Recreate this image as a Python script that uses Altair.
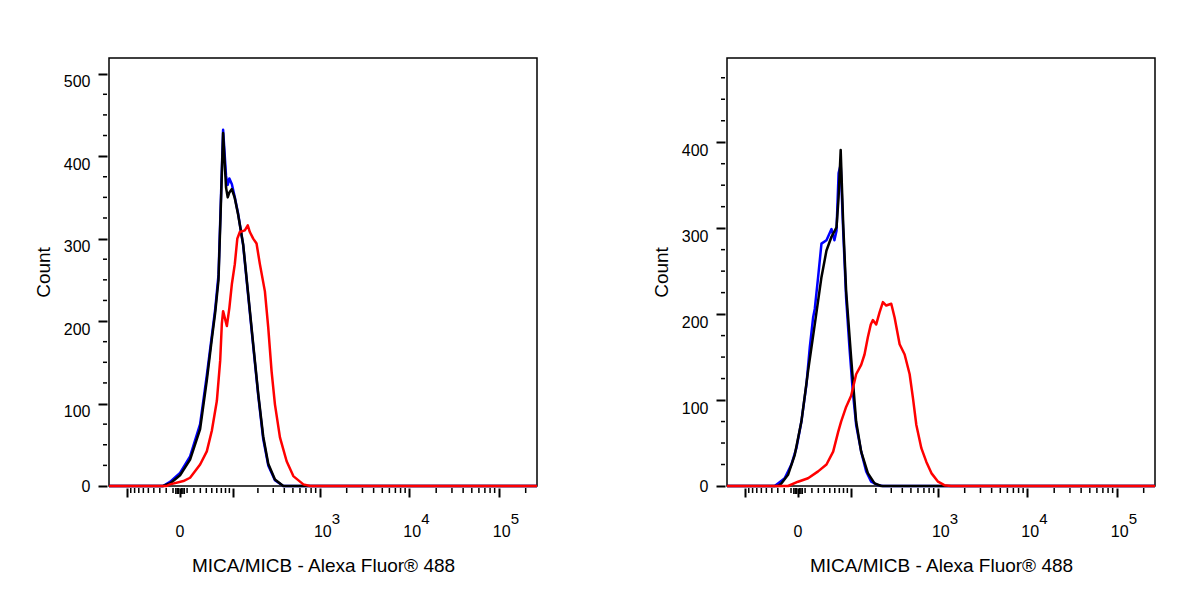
import altair as alt
import numpy as np
import pandas as pd

FONT = "Liberation Sans"
W, H = 428, 428

# histogram channels (0-1024 across the x axis) and counts
LEFT_BB_CH = [129, 146, 170, 194, 218, 234, 246, 254, 262, 267, 273, 280, 284,
              288, 294, 301, 309, 321, 333, 345, 357, 369, 381, 397, 417]
LEFT_BLUE = [0, 5, 16, 36, 75, 134, 182, 214, 256, 336, 432, 376, 365,
             373, 366, 350, 330, 292, 231, 170, 110, 57, 25, 7, 0]
LEFT_BLACK = [0, 3, 13, 32, 69, 128, 178, 210, 250, 330, 428, 362, 350,
              356, 360, 349, 329, 293, 233, 172, 112, 60, 27, 8, 0]

LEFT_RED_CH = [138, 146, 178, 194, 218, 234, 246, 258, 266, 270, 273, 282, 288,
               294, 301, 307, 313, 325, 332, 337, 345, 353, 361, 373, 381, 389,
               397, 409, 425, 441, 465, 481]
LEFT_RED = [0, 2, 6, 10, 26, 42, 67, 103, 152, 197, 212, 194, 216,
            245, 269, 300, 308, 310, 316, 308, 300, 294, 269, 236, 192, 139,
            99, 59, 30, 12, 2, 0]

RIGHT_BLUE_CH = [114, 122, 138, 154, 166, 178, 190, 198, 206, 210, 218, 226, 238,
                 250, 257, 262, 267, 272, 278, 285, 293, 301, 309, 321, 333, 345,
                 361, 373]
RIGHT_BLUE = [0, 3, 9, 25, 44, 75, 118, 161, 196, 206, 243, 282, 286,
              299, 286, 297, 364, 374, 297, 219, 161, 110, 71, 40, 17, 5,
              1, 0]

RIGHT_BLACK_CH = [122, 130, 146, 162, 178, 194, 210, 226, 238, 250, 262, 267,
                  272, 278, 285, 297, 309, 321, 337, 353, 369]
RIGHT_BLACK = [0, 3, 13, 36, 75, 134, 188, 243, 274, 290, 301, 336,
               391, 305, 227, 149, 75, 40, 15, 3, 0]

RIGHT_RED_CH = [146, 170, 194, 218, 238, 254, 266, 273, 285, 297, 309, 321, 329,
                337, 344, 349, 357, 365, 373, 381, 393, 401, 413, 425, 437, 445,
                453, 465, 477, 489, 505, 520, 536]
RIGHT_RED = [0, 5, 9, 17, 25, 40, 63, 75, 92, 105, 130, 141, 153,
             173, 188, 193, 188, 202, 214, 210, 212, 196, 165, 153, 130, 102,
             71, 44, 28, 15, 5, 1, 0]

# x axis ticks, in fluorescence units
MAJOR_X = [-100, 0, 100, 1000, 10000, 100000]
MINOR_X = ([-90, -80, -70, -60, -50, -40, -30, -20, -10]
           + [10, 20, 30, 40, 50, 60, 70, 80, 90]
           + [200, 300, 400, 500, 600, 700, 800, 900]
           + [2000, 3000, 4000, 5000, 6000, 7000, 8000, 9000]
           + [20000, 30000, 40000, 50000, 60000, 70000, 80000, 90000]
           + [200000])
ZERO_X = [-6, -4, -2, 2, 4, 6]
LABEL_X = [0, 1000, 10000, 100000]
LABEL_BASE = ["0", "10", "10", "10"]
LABEL_EXP = ["", "3", "4", "5"]

X_TITLE = "MICA/MICB - Alexa Fluor® 488"


def to_channel(v):
    # biexponential display: near-linear round zero, log above a few hundred
    return 170 + 93.0 * np.arcsinh(np.asarray(v, dtype=float) / 55.0)


def curve(ch, counts):
    # pad each histogram out to both ends of the axis at zero
    return pd.DataFrame({"ch": [0] + ch + [1024], "count": [0] + counts + [0]})


def panel(curves, ymax, ymajor):
    x_axis = alt.Axis(
        values=[round(float(c), 3) for c in to_channel(MAJOR_X)],
        labels=False, tickSize=9, tickWidth=2, tickColor="black",
        domain=False, grid=False, offset=2,
        title=X_TITLE, titleFont=FONT, titleFontSize=19,
        titleFontWeight="normal", titleColor="black", titlePadding=58,
    )
    y_axis = alt.Axis(
        values=ymajor, tickSize=9, tickWidth=2, tickColor="black",
        domain=False, grid=False, offset=2,
        labelFont=FONT, labelFontSize=16, labelColor="black", labelPadding=8,
        labelBaseline={"condition": {"test": "datum.value === 0", "value": "middle"},
                       "value": "top"},
        labelOverlap=False,
        title="Count", titleFont=FONT, titleFontSize=19,
        titleFontWeight="normal", titleColor="black", titlePadding=10,
    )
    x = alt.X("ch:Q", scale=alt.Scale(domain=[0, 1024], nice=False, zero=False), axis=x_axis)
    y = alt.Y("count:Q", scale=alt.Scale(domain=[0, ymax], nice=False), axis=y_axis)

    layers = []
    for df, color in curves:
        layers.append(
            alt.Chart(df).mark_line(color=color, strokeWidth=2.5, strokeJoin="round")
            .encode(x=x, y=y)
        )

    minor = pd.DataFrame({"ch": to_channel(MINOR_X)})
    layers.append(
        alt.Chart(minor).mark_rule(color="black", strokeWidth=1.5)
        .encode(x=x, y=alt.value(H + 2), y2=alt.value(H + 7))
    )
    zero = pd.DataFrame({"ch": to_channel(ZERO_X)})
    layers.append(
        alt.Chart(zero).mark_rule(color="black", strokeWidth=1.5)
        .encode(x=x, y=alt.value(H + 2), y2=alt.value(H + 8))
    )

    ymin = [v for v in range(25, int(ymax), 25) if v % 100 != 0]
    layers.append(
        alt.Chart(pd.DataFrame({"count": ymin})).mark_rule(color="black", strokeWidth=1.5)
        .encode(y=y, x=alt.value(-2), x2=alt.value(-6))
    )

    labels = pd.DataFrame({"ch": to_channel(LABEL_X), "base": LABEL_BASE, "exp": LABEL_EXP})
    layers.append(
        alt.Chart(labels[labels["exp"] == ""])
        .mark_text(font=FONT, fontSize=16, color="black", align="center", baseline="middle")
        .encode(x=x, y=alt.value(H + 46), text="base:N")
    )
    layers.append(
        alt.Chart(labels[labels["exp"] != ""])
        .mark_text(font=FONT, fontSize=16, color="black", align="center",
                   baseline="middle", dx=3)
        .encode(x=x, y=alt.value(H + 46), text="base:N")
    )
    layers.append(
        alt.Chart(labels[labels["exp"] != ""])
        .mark_text(font=FONT, fontSize=15, color="black", align="left",
                   baseline="middle", dx=12)
        .encode(x=x, y=alt.value(H + 33), text="exp:N")
    )

    return alt.layer(*layers).properties(width=W, height=H)


left = panel(
    [(curve(LEFT_BB_CH, LEFT_BLUE), "#0000ff"),
     (curve(LEFT_BB_CH, LEFT_BLACK), "#000000"),
     (curve(LEFT_RED_CH, LEFT_RED), "#ff0000")],
    519, [0, 100, 200, 300, 400, 500],
)
right = panel(
    [(curve(RIGHT_BLUE_CH, RIGHT_BLUE), "#0000ff"),
     (curve(RIGHT_BLACK_CH, RIGHT_BLACK), "#000000"),
     (curve(RIGHT_RED_CH, RIGHT_RED), "#ff0000")],
    498, [0, 100, 200, 300, 400],
)

chart = (
    alt.hconcat(left, right, spacing=112)
    .properties(padding={"left": 25, "top": 49, "right": 5, "bottom": 5})
    .configure_view(stroke="black", strokeWidth=1.5)
)

chart.save("out.html", embed_options={"renderer": "svg", "actions": False})
